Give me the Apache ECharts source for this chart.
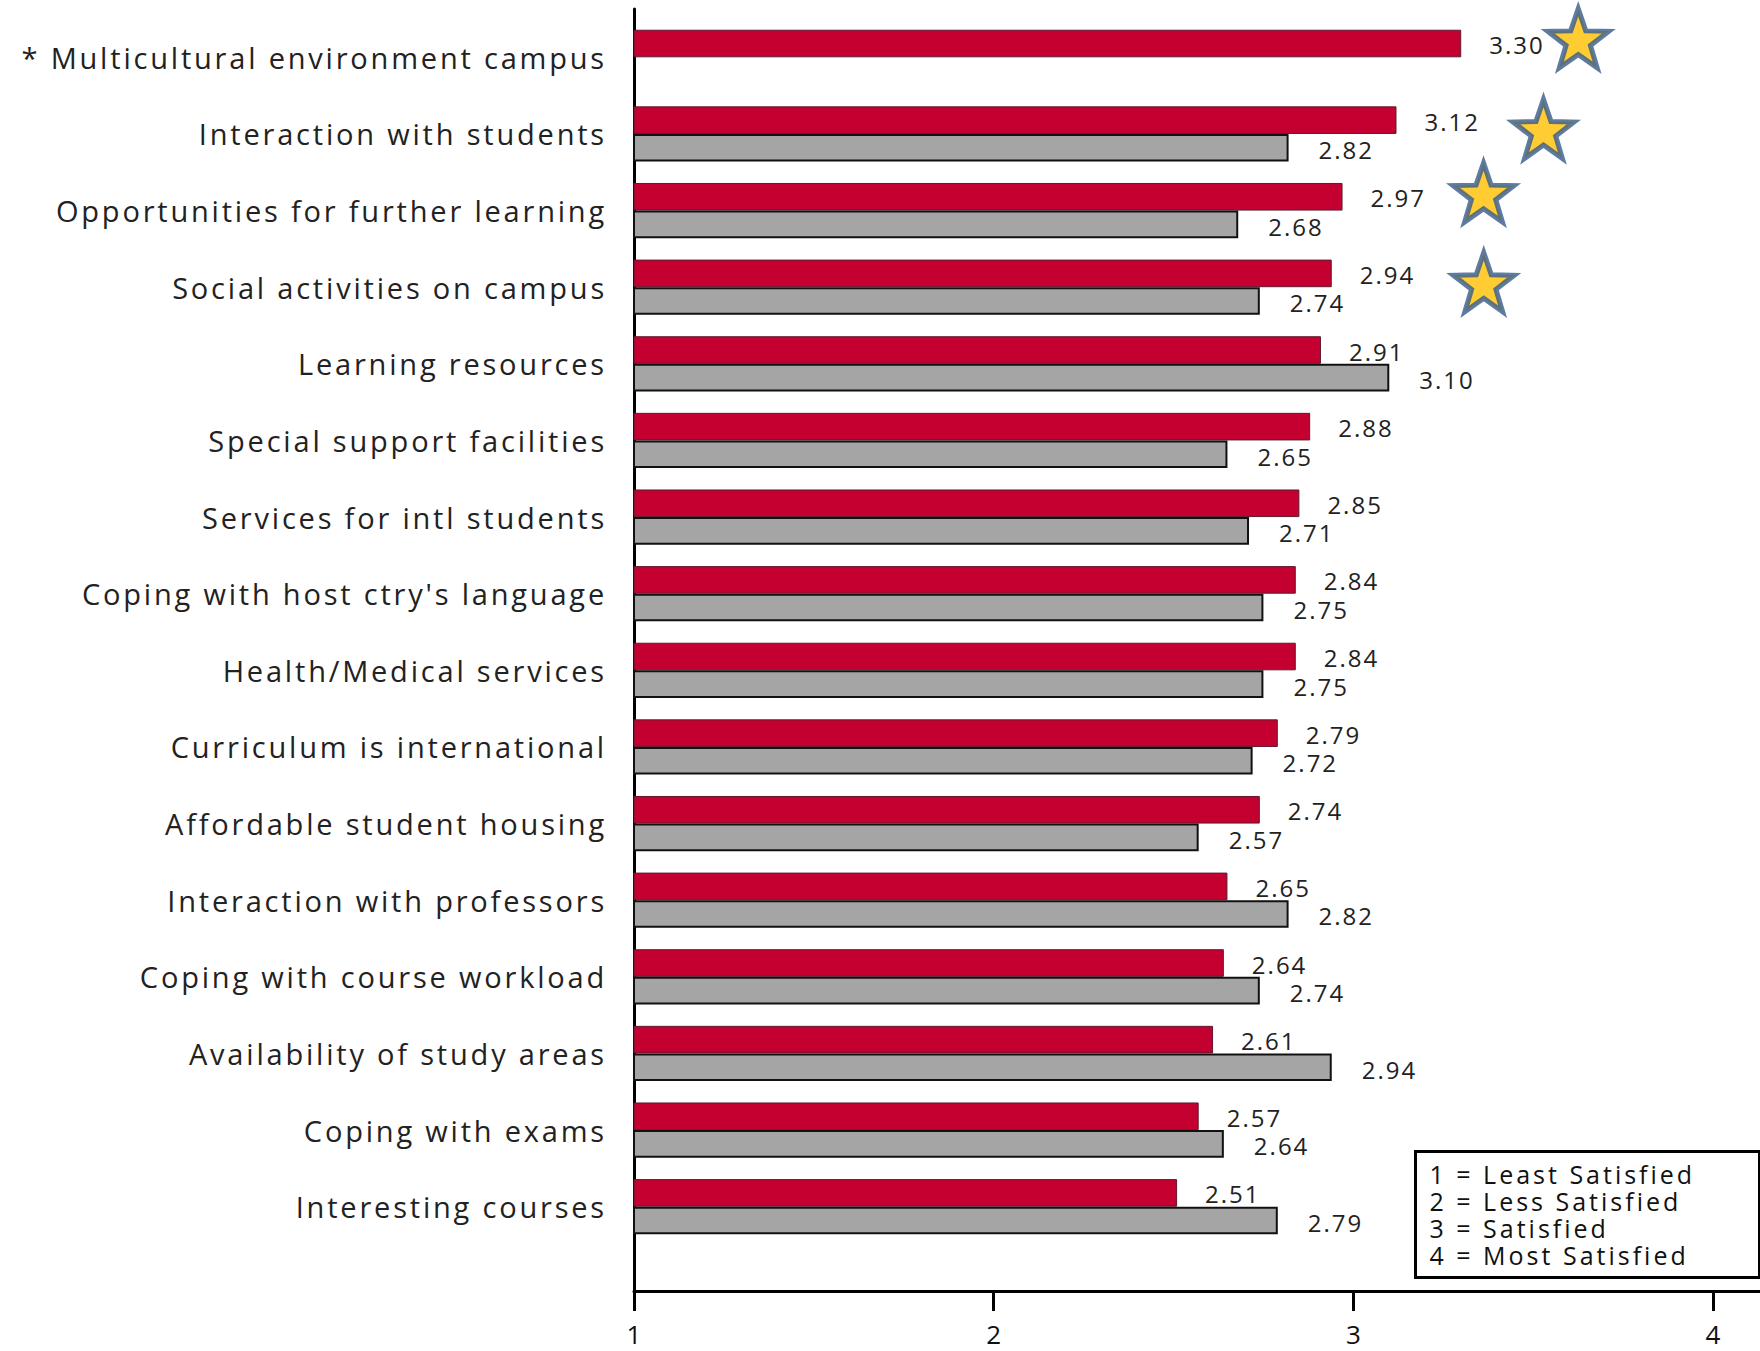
<!DOCTYPE html>
<html><head><meta charset="utf-8">
<script src="https://cdn.jsdelivr.net/npm/echarts@6/dist/echarts.min.js"></script>
<style>
html,body{margin:0;padding:0;background:#fff}
#c{width:1760px;height:1351px}
/* widen the lettering to match the reference's wide type */
#c text[style*="29px"]{letter-spacing:2.8px}
#c text[style*="24px"]{letter-spacing:2px}
#c text[style*="25px"]{letter-spacing:3px}
</style>
</head><body><div id="c"></div>
<script>
// ---- data ----
const categories = [
  '* Multicultural environment campus',
  'Interaction with students',
  'Opportunities for further learning',
  'Social activities on campus',
  'Learning resources',
  'Special support facilities',
  'Services for intl students',
  "Coping with host ctry's language",
  'Health/Medical services',
  'Curriculum is international',
  'Affordable student housing',
  'Interaction with professors',
  'Coping with course workload',
  'Availability of study areas',
  'Coping with exams',
  'Interesting courses'
];
const redValues  = [3.30, 3.12, 2.97, 2.94, 2.91, 2.88, 2.85, 2.84, 2.84, 2.79, 2.74, 2.65, 2.64, 2.61, 2.57, 2.51];
const grayValues = [null, 2.82, 2.68, 2.74, 3.10, 2.65, 2.71, 2.75, 2.75, 2.72, 2.57, 2.82, 2.74, 2.94, 2.64, 2.79];
const xTickLabels = [1, 2, 3, 4];
const starredCategories = [
  '* Multicultural environment campus',
  'Interaction with students',
  'Opportunities for further learning',
  'Social activities on campus'
];
const legendLines = ['1 = Least Satisfied', '2 = Less Satisfied', '3 = Satisfied', '4 = Most Satisfied'];

// ---- layout / style ----
const FONT = '"Open Sans", sans-serif';
const X_MIN = 1, X_MAX = 4.1307;
const starOffsets = [[117, -19], [147, -5], [141, -18], [152, -5]];

function starPath() {
  let d = '';
  for (let k = 0; k < 10; k++) {
    const a = (-90 + 36 * k) * Math.PI / 180;
    const r = k % 2 === 0 ? 50 : 20;
    const x = (r * Math.cos(a)).toFixed(3), y = (r * Math.sin(a)).toFixed(3);
    d += (k === 0 ? 'M' : 'L') + x + ' ' + y + ' ';
  }
  return 'path://' + d + 'Z';
}

const starData = starredCategories.map((c, k) => {
  const i = categories.indexOf(c);
  return { value: [redValues[i], c], symbolOffset: starOffsets[k] };
});

const chart = echarts.init(document.getElementById('c'), null, { renderer: 'svg' });
chart.setOption({
  animation: false,
  backgroundColor: '#ffffff',
  textStyle: { fontFamily: FONT },
  grid: [
    { left: 634, right: 0, top: 19, bottom: 106 },
    { left: 634, right: 0, top: 9, bottom: 60 }
  ],
  xAxis: [
    { gridIndex: 0, type: 'value', min: X_MIN, max: X_MAX, show: false },
    {
      gridIndex: 1, type: 'value', min: X_MIN, max: X_MAX, interval: 1,
      axisLine: { show: true, onZero: false, lineStyle: { color: '#000', width: 3 } },
      axisTick: { show: true, length: 20, customValues: xTickLabels, lineStyle: { color: '#000', width: 3 } },
      axisLabel: { customValues: xTickLabels, fontSize: 26, lineHeight: 24, color: '#111', margin: 31, fontFamily: FONT },
      splitLine: { show: false }
    }
  ],
  yAxis: [
    {
      gridIndex: 0, type: 'category', inverse: true, data: categories,
      axisLine: { show: false }, axisTick: { show: false },
      axisLabel: { fontSize: 29, color: '#222', margin: 27, padding: [8, 0, 0, 0], fontFamily: FONT }
    },
    {
      gridIndex: 1, type: 'value', min: 0, max: 1,
      axisLine: { show: true, onZero: false, lineStyle: { color: '#000', width: 3 } },
      axisTick: { show: false }, axisLabel: { show: false }, splitLine: { show: false }
    }
  ],
  series: [
    {
      name: 'Group A', type: 'bar', xAxisIndex: 0, yAxisIndex: 0,
      data: redValues, barGap: '0%', barCategoryGap: '28%',
      itemStyle: { color: '#C3002F', borderColor: '#5e1a2e', borderWidth: 1 },
      label: {
        show: true, position: 'right', distance: 28, offset: [0, 1], fontSize: 24, color: '#222', fontFamily: FONT,
        formatter: p => p.value.toFixed(2)
      }
    },
    {
      name: 'Group B', type: 'bar', xAxisIndex: 0, yAxisIndex: 0,
      data: grayValues, barGap: '0%', barCategoryGap: '28%',
      itemStyle: { color: '#A5A5A5', borderColor: '#111', borderWidth: 2 },
      label: {
        show: true, position: 'right', distance: 30, offset: [0, 2], fontSize: 24, color: '#222', fontFamily: FONT,
        formatter: p => (p.value == null ? '' : p.value.toFixed(2))
      }
    },
    {
      name: 'Significant', type: 'scatter', xAxisIndex: 0, yAxisIndex: 0, z: 5,
      symbol: starPath(), symbolSize: [61, 59], symbolKeepAspect: false,
      itemStyle: { color: '#FFC000', borderColor: '#365A8A', borderWidth: 5 },
      data: starData
    }
  ],
  graphic: [
    {
      type: 'group', left: 1414, top: 1150,
      children: [
        { type: 'rect', shape: { x: 0, y: 0, width: 344, height: 126 }, style: { fill: '#fff', stroke: '#000', lineWidth: 3 } },
        { type: 'text', x: 14, y: 9, style: { text: legendLines.join('\n'), font: '25px ' + FONT, fill: '#111', lineHeight: 27 } }
      ]
    }
  ]
});
</script></body></html>
